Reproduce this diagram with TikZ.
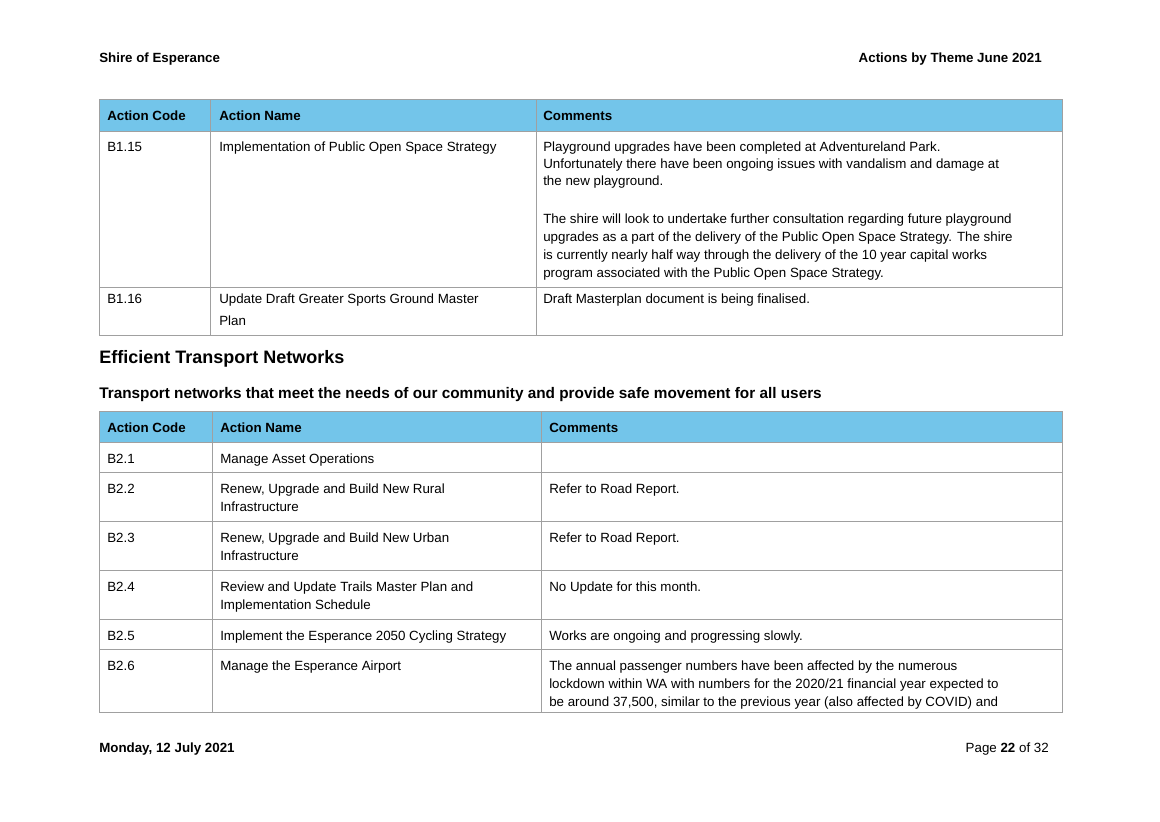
\documentclass[tikz,border=0pt]{standalone}
\usepackage{fontspec}
\setmainfont{Liberation Sans}
\definecolor{hdr}{RGB}{115,197,234}
\definecolor{grid}{RGB}{160,160,160}
\begin{document}
\begin{tikzpicture}[x=0.75pt,y=-0.75pt,
  t/.style={anchor=base west,inner sep=0,font=\fontsize{10}{12}\selectfont},
  tb/.style={t,font=\fontsize{10}{12}\selectfont\bfseries},
  tr/.style={anchor=base east,inner sep=0,font=\fontsize{10}{12}\selectfont\bfseries},
  gl/.style={draw=grid,line width=0.6pt}]
\useasboundingbox (0,0) rectangle (1160,821);
\fill[white] (0,0) rectangle (1160,821);
% page header
\node[tb] (sh) at (99,62) {Shire of Esperance};
\node[tr] (th) at (1042,62) {Actions by Theme June 2021};
% table 1
\fill[hdr] (99,99) rectangle (1062,131);
\draw[gl] (99,99) rectangle (1062,335);
\draw[gl] (99,131) -- (1062,131) (99,287) -- (1062,287);
\draw[gl] (210,99) -- (210,335) (536,99) -- (536,335);
\node[tb] (h1a) at (107,120) {Action Code};
\node[tb] (h1b) at (219,120) {Action Name};
\node[tb] (h1c) at (543,120) {Comments};
\node[t] (c115) at (107,151) {B1.15};
\node[t] (n115) at (219,151) {Implementation of Public Open Space Strategy};
\node[t] (m1) at (543,151) {Playground upgrades have been completed at Adventureland Park.};
\node[t] (m2) at (543,168) {Unfortunately there have been ongoing issues with vandalism and damage at};
\node[t] (m3) at (543,185) {the new playground.};
\node[t] (m4) at (543,223) {The shire will look to undertake further consultation regarding future playground};
\node[t] (m5) at (543,241) {upgrades as a part of the delivery of the Public Open Space Strategy. The shire};
\node[t] (m6) at (543,259) {is currently nearly half way through the delivery of the 10 year capital works};
\node[t] (m7) at (543,277) {program associated with the Public Open Space Strategy.};
\node[t] (c116) at (107,303) {B1.16};
\node[t] (n116a) at (219,303) {Update Draft Greater Sports Ground Master};
\node[t] (n116b) at (219,325) {Plan};
\node[t] (m116) at (543,303) {Draft Masterplan document is being finalised.};
% headings
\node[anchor=base west,inner sep=0,font=\fontsize{13.5}{16}\selectfont\bfseries] (eh) at (99,363) {Efficient Transport Networks};
\node[anchor=base west,inner sep=0,font=\fontsize{11.5}{14}\selectfont\bfseries] (sh2) at (99,398) {Transport networks that meet the needs of our community and provide safe movement for all users};
% table 2
\fill[hdr] (99,411) rectangle (1062,442);
\draw[gl] (99,411) rectangle (1062,712);
\foreach \y in {442,472,521,570,619,649} \draw[gl] (99,\y) -- (1062,\y);
\draw[gl] (212,411) -- (212,712) (541,411) -- (541,712);
\node[tb] (h2a) at (107,432) {Action Code};
\node[tb] (h2b) at (220,432) {Action Name};
\node[tb] (h2c) at (549,432) {Comments};
\node[t] (c21) at (107,463) {B2.1};
\node[t] (n21) at (220,463) {Manage Asset Operations};
\node[t] (c22) at (107,493) {B2.2};
\node[t] (n22a) at (220,493) {Renew, Upgrade and Build New Rural};
\node[t] (n22b) at (220,511) {Infrastructure};
\node[t] (m22) at (549,493) {Refer to Road Report.};
\node[t] (c23) at (107,542) {B2.3};
\node[t] (n23a) at (220,542) {Renew, Upgrade and Build New Urban};
\node[t] (n23b) at (220,560) {Infrastructure};
\node[t] (m23) at (549,542) {Refer to Road Report.};
\node[t] (c24) at (107,591) {B2.4};
\node[t] (n24a) at (220,591) {Review and Update Trails Master Plan and};
\node[t] (n24b) at (220,609) {Implementation Schedule};
\node[t] (m24) at (549,591) {No Update for this month.};
\node[t] (c25) at (107,640) {B2.5};
\node[t] (n25) at (220,640) {Implement the Esperance 2050 Cycling Strategy};
\node[t] (m25) at (549,640) {Works are ongoing and progressing slowly.};
\node[t] (c26) at (107,670) {B2.6};
\node[t] (n26) at (220,670) {Manage the Esperance Airport};
\node[t] (m26a) at (549,670) {The annual passenger numbers have been affected by the numerous};
\node[t] (m26b) at (549,688) {lockdown within WA with numbers for the 2020/21 financial year expected to};
\node[t] (m26c) at (549,706) {be around 37,500, similar to the previous year (also affected by COVID) and};
% footer
\node[tb] (fd) at (99,752) {Monday, 12 July 2021};
\node[anchor=base east,inner sep=0,font=\fontsize{10}{12}\selectfont] (pg) at (1049,752) {Page \textbf{22} of 32};
\end{tikzpicture}
\end{document}
